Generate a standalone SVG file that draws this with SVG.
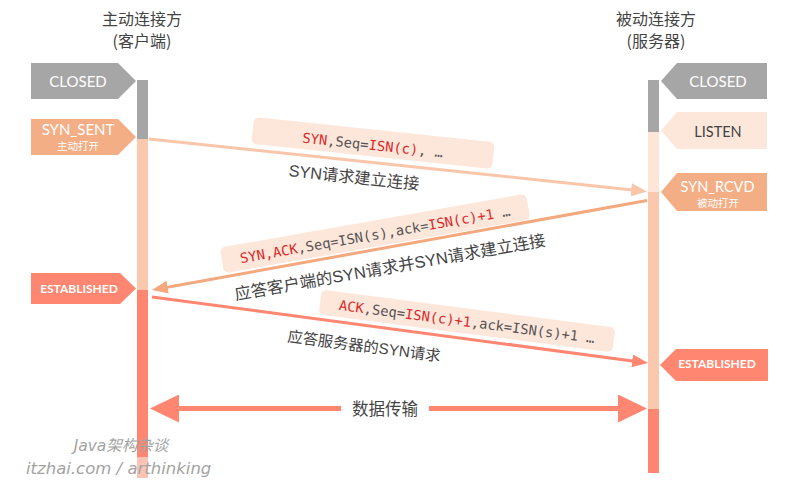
<svg xmlns="http://www.w3.org/2000/svg" width="800" height="484" viewBox="0 0 800 484">
<style>
.hdr{font-family:"Noto Sans CJK SC","Noto Sans",sans-serif;font-size:16px;fill:#444;text-anchor:middle}
.st{font-family:Lato,"Noto Sans CJK SC",sans-serif;fill:#fff;text-anchor:middle}
.big{font-size:15px}
.mid{font-size:14.5px}
.est{font-size:12px;font-weight:bold}
.sub{font-family:"Noto Sans CJK SC",sans-serif;font-size:10.5px;fill:#fff;text-anchor:middle}
.lbl{font-family:"Liberation Sans","Noto Sans CJK SC",sans-serif;fill:#444;text-anchor:middle}
.code{font-family:"DejaVu Sans Mono",monospace;font-size:13.8px;fill:#555;text-anchor:middle}
.r{fill:#d92b2b}
.pill{fill:#fde6da}
.wm{font-family:"DejaVu Sans","Noto Sans CJK SC",sans-serif;font-style:italic;fill:#a3a3a3}
</style>
<defs>
<marker id="h1" markerUnits="userSpaceOnUse" markerWidth="16" markerHeight="13" refX="6" refY="6.5" orient="auto"><path d="M0,0 L16,6.5 L0,13 Z" fill="#fac6aa"/></marker>
<marker id="h2" markerUnits="userSpaceOnUse" markerWidth="16" markerHeight="13" refX="6" refY="6.5" orient="auto"><path d="M0,0 L16,6.5 L0,13 Z" fill="#f4a87e"/></marker>
<marker id="h3" markerUnits="userSpaceOnUse" markerWidth="16" markerHeight="13" refX="6" refY="6.5" orient="auto"><path d="M0,0 L16,6.5 L0,13 Z" fill="#ff8670"/></marker>
<marker id="h4" markerUnits="userSpaceOnUse" markerWidth="29" markerHeight="28" refX="9" refY="14" orient="auto"><path d="M0,0 L29,14 L0,28 Z" fill="#ff8670"/></marker>
</defs>
<rect width="800" height="484" fill="#fff"/>

<g id="headers">
<text class="hdr" x="142" y="25">主动连接方</text>
<text class="hdr" x="142" y="47">(客户端)</text>
<text class="hdr" x="656" y="25">被动连接方</text>
<text class="hdr" x="656" y="47">(服务器)</text>
</g>

<g id="client-lifeline">
<rect x="137" y="80" width="11" height="59" fill="#a6a6a6"/>
<rect x="137" y="139" width="11" height="151" fill="#f9c8ad"/>
<rect x="137" y="290" width="11" height="167" fill="#ff8670"/>
<rect x="137" y="457" width="11" height="21" fill="#fdc3b4"/>
</g>
<g id="server-lifeline">
<rect x="648" y="80" width="11" height="52" fill="#a6a6a6"/>
<rect x="648" y="132" width="11" height="60" fill="#fde5d8"/>
<rect x="648" y="192" width="11" height="217" fill="#f9c8ad"/>
<rect x="648" y="409" width="11" height="64" fill="#ff8670"/>
</g>

<g id="c-closed">
<polygon points="31,63 118,63 136,81 118,99 31,99" fill="#a6a6a6"/>
<text class="st big" x="78" y="87">CLOSED</text>
</g>
<g id="c-synsent">
<polygon points="31,119 118,119 136,137 118,155 31,155" fill="#f4ae86"/>
<text class="st big" x="78" y="135">SYN_SENT</text>
<text class="sub" x="78" y="150">主动打开</text>
</g>
<g id="c-established">
<polygon points="31,273 120,273 136,288.5 120,304 31,304" fill="#ff8670"/>
<text class="st est" x="79" y="293">ESTABLISHED</text>
</g>
<g id="s-closed">
<polygon points="767,63 677,63 661,81 677,99 767,99" fill="#a6a6a6"/>
<text class="st big" x="718" y="87">CLOSED</text>
</g>
<g id="s-listen">
<polygon points="767,112 677,112 661,130.5 677,149 767,149" fill="#fde6da"/>
<text class="st mid" x="718" y="137" style="fill:#444">LISTEN</text>
</g>
<g id="s-synrcvd">
<polygon points="767,173 677,173 661,192 677,211 767,211" fill="#f4ae86"/>
<text class="st mid" x="717.5" y="192">SYN_RCVD</text>
<text class="sub" x="718" y="207">被动打开</text>
</g>
<g id="s-established">
<polygon points="768,349 676,349 660,365 676,381 768,381" fill="#ff8670"/>
<text class="st est" x="717" y="368">ESTABLISHED</text>
</g>

<g id="connectors" fill="none">
<path d="M149,139 L637.1,190.45" stroke="#fac6aa" stroke-width="3" marker-end="url(#h1)"/>
<path d="M647,200.5 L161.8,288.2" stroke="#f4a87e" stroke-width="3" marker-end="url(#h2)"/>
<path d="M152,297 L638.1,361.7" stroke="#ff8670" stroke-width="3" marker-end="url(#h3)"/>
<path d="M341,408.5 L170,408.5" stroke="#ff8670" stroke-width="5" marker-end="url(#h4)"/>
<path d="M429,408.5 L627,408.5" stroke="#ff8670" stroke-width="5" marker-end="url(#h4)"/>
</g>

<g id="label-syn">
<g transform="translate(373,143) rotate(6)">
<rect class="pill" x="-121" y="-13.5" width="242" height="27" rx="5"/>
<text class="code" x="0" y="7"><tspan class="r">SYN</tspan>,Seq=<tspan class="r">ISN(c)</tspan>, …</text>
</g>
<g transform="translate(354,177) rotate(6)">
<text class="lbl" x="0" y="6" style="font-size:16.3px">SYN请求建立连接</text>
</g>
</g>
<g id="label-synack">
<g transform="translate(375,233.5) rotate(-10)">
<rect class="pill" x="-155.5" y="-13" width="311" height="26" rx="5"/>
<text class="code" x="0" y="6"><tspan class="r">SYN,ACK</tspan>,Seq=ISN(s),ack=<tspan class="r">ISN(c)+1</tspan> …</text>
</g>
<g transform="translate(390,267) rotate(-10)">
<text class="lbl" x="0" y="6" style="font-size:16.5px">应答客户端的SYN请求并SYN请求建立连接</text>
</g>
</g>
<g id="label-ack">
<g transform="translate(467,321) rotate(7.4)">
<rect class="pill" x="-148" y="-12.5" width="296" height="25" rx="5"/>
<text class="code" x="0" y="5.5"><tspan class="r">ACK</tspan>,Seq=<tspan class="r">ISN(c)+1</tspan>,ack=ISN(s)+1 …</text>
</g>
<g transform="translate(364,346) rotate(7.4)">
<text class="lbl" x="0" y="5.5" style="font-size:15.3px">应答服务器的SYN请求</text>
</g>
</g>
<g id="label-data">
<text class="lbl" x="385" y="415" style="font-size:16.5px">数据传输</text>
</g>

<g id="watermark">
<text class="wm" x="121" y="451" text-anchor="middle" style="font-size:15.5px">Java架构杂谈</text>
<text class="wm" x="26" y="474" style="font-size:16.5px">itzhai.com / arthinking</text>
</g>
</svg>
